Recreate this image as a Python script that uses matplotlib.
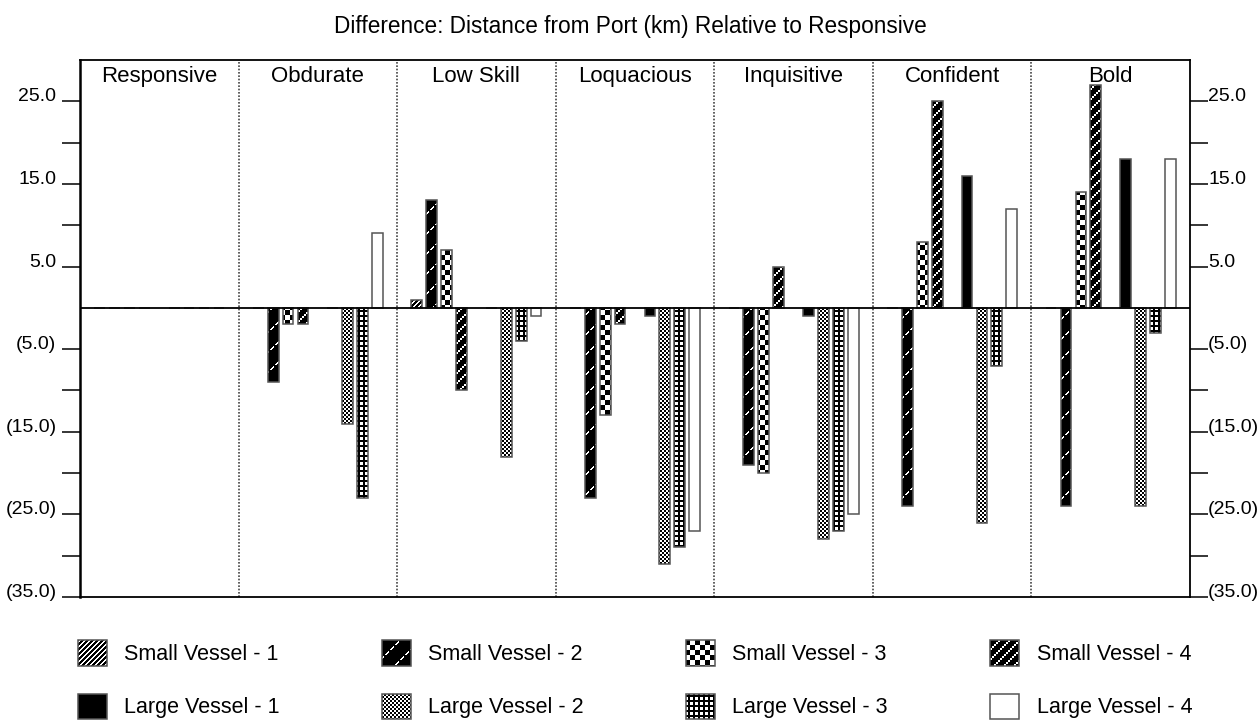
import warnings
import matplotlib
matplotlib.use('Agg')
import matplotlib.pyplot as plt
import matplotlib.hatch as mhatch
import matplotlib.transforms as mtransforms
from matplotlib.path import Path
from matplotlib.patches import Patch
from matplotlib.ticker import FuncFormatter

warnings.filterwarnings('ignore')

plt.rcParams['font.family'] = ['Liberation Sans', 'DejaVu Sans']
plt.rcParams['hatch.linewidth'] = 0.0

groups = ['Responsive', 'Obdurate', 'Low Skill', 'Loquacious', 'Inquisitive', 'Confident', 'Bold']
labels = ['Small Vessel - 1', 'Small Vessel - 2', 'Small Vessel - 3', 'Small Vessel - 4',
          'Large Vessel - 1', 'Large Vessel - 2', 'Large Vessel - 3', 'Large Vessel - 4']

small_1 = [0, 0, 1, 0, 0, 0, 0]
small_2 = [0, -9, 13, -23, -19, -24, -24]
small_3 = [0, -2, 7, -13, -20, 8, 14]
small_4 = [0, -2, -10, -2, 5, 25, 27]
large_1 = [0, 0, 0, -1, -1, 16, 18]
large_2 = [0, -14, -18, -31, -28, -26, -24]
large_3 = [0, -23, -4, -29, -27, -7, -3]
large_4 = [0, 9, -1, -27, -25, 12, 18]
values = [small_1, small_2, small_3, small_4, large_1, large_2, large_3, large_4]

# bitmap fill patterns (one hatch tile = 100 px at dpi 100), y goes up
TILE = 100
bitmaps = {
    'a': lambda x, y: (x - y) % 5 < 2,                                  # fine diagonal
    'b': lambda x, y: (x - y) % 20 < 2 and (x + y) % 10 < 7,            # sparse dashes
    'c': lambda x, y: ((x // 5) + (y // 5)) % 2 == 0,                   # coarse checker
    'd': lambda x, y: ((x // 2) - (y // 2)) % 5 == 0,                   # diagonal blocks
    'e': lambda x, y: ((x // 2) + (y // 2)) % 2 == 0,                   # fine checker
    'g': lambda x, y: x % 5 < 3 and y % 5 < 3,                          # grid holes
}


def runs(fn):
    rects = []
    for y in range(TILE):
        x = 0
        while x < TILE:
            if fn(x, y):
                x0 = x
                while x < TILE and fn(x, y):
                    x += 1
                rects.append((x0, y, x, y + 1))
            else:
                x += 1
    return rects


class BitmapHatch(mhatch.HatchPatternBase):
    def __init__(self, hatch, density):
        self.rects = []
        for ch, fn in bitmaps.items():
            if ch in hatch:
                self.rects += runs(fn)
        self.num_vertices = 5 * len(self.rects)

    def set_vertices_and_codes(self, vertices, codes):
        for i, (x0, y0, x1, y1) in enumerate(self.rects):
            x0, y0, x1, y1 = x0 / TILE, y0 / TILE, x1 / TILE, y1 / TILE
            vertices[5 * i:5 * i + 5] = [(x0, y0), (x1, y0), (x1, y1), (x0, y1), (x0, y0)]
            codes[5 * i:5 * i + 5] = [Path.MOVETO, Path.LINETO, Path.LINETO,
                                      Path.LINETO, Path.CLOSEPOLY]


mhatch._hatch_types.append(BitmapHatch)

# background, pattern colour, pattern
styles = [('black', 'white', 'a'), ('black', 'white', 'b'), ('white', 'black', 'c'),
          ('black', 'white', 'd'), ('black', 'black', None), ('white', 'black', 'e'),
          ('black', 'white', 'g'), ('white', 'white', None)]
slots = [0, 1, 2, 3, 5, 6, 7, 8]
step = 0.094
width = 0.068
outline = '#555555'

fig = plt.figure(figsize=(12.6, 7.23), dpi=100)
ax = fig.add_axes([80 / 1260, 1 - 597 / 723, 1110 / 1260, 537 / 723])

xs = range(len(groups))
for vals, (bg, fg, hatch), slot in zip(values, styles, slots):
    pos = [g + (slot - 4) * step for g in xs]
    ax.bar(pos, vals, width, color=bg, edgecolor=fg, hatch=hatch, linewidth=0, zorder=2)
    ax.bar(pos, vals, width, fill=False, edgecolor=outline, linewidth=1.1, zorder=3)

ax.axhline(0, color='black', lw=1.3, zorder=4)
for g in xs[:-1]:
    ax.axvline(g + 0.5, color='#444444', lw=1.2, ls=(0, (1, 1)), zorder=1)
for g, name in zip(xs, groups):
    ax.text(g, 28.0, name, ha='center', va='center', fontsize=16)

ax.set_xlim(-0.5, len(groups) - 0.5)
ax.set_ylim(-35, 30)
ax.set_xticks([])
ax.set_yticks([25, 15, 5, -5, -15, -25, -35])
ax.set_yticks([20, 10, -10, -20, -30], minor=True)
ax.yaxis.set_major_formatter(FuncFormatter(lambda v, p: f'{v:.1f}' if v >= 0 else f'({-v:.1f})'))
ax.tick_params(axis='y', which='both', direction='out', length=13, width=1.1,
               left=True, right=True, labelleft=True, labelright=True, labelsize=14)
ax.tick_params(axis='y', which='major', pad=4)
# right labels sit right against the tick ends
shift = mtransforms.ScaledTranslation(-4 / 72, 0, fig.dpi_scale_trans)
for t in ax.yaxis.get_major_ticks():
    t.label1.set_va('baseline')
    t.label2.set_va('baseline')
    t.label2.set_transform(t.label2.get_transform() + shift)
for s in ax.spines.values():
    s.set_linewidth(1.3)
ax.spines['left'].set_linewidth(1.8)

fig.text(0.5, 1 - 26 / 723, 'Difference: Distance from Port (km) Relative to Responsive',
         ha='center', va='center', fontsize=16.3)

handles = []
for bg, fg, hatch in styles:
    handles.append((Patch(facecolor=bg, edgecolor=fg, hatch=hatch, linewidth=0),
                    Patch(fill=False, edgecolor=outline, linewidth=1.1)))
order = [0, 4, 1, 5, 2, 6, 3, 7]
fig.legend([handles[i] for i in order], [labels[i] for i in order], ncol=4,
           loc='upper left', bbox_to_anchor=(78 / 1260, 1 - 640 / 723), frameon=False,
           fontsize=15.5, handlelength=1.35, handleheight=1.45, handletextpad=0.8,
           columnspacing=4.75, labelspacing=1.3, borderpad=0, borderaxespad=0)

fig.savefig('out.png', dpi=100)
